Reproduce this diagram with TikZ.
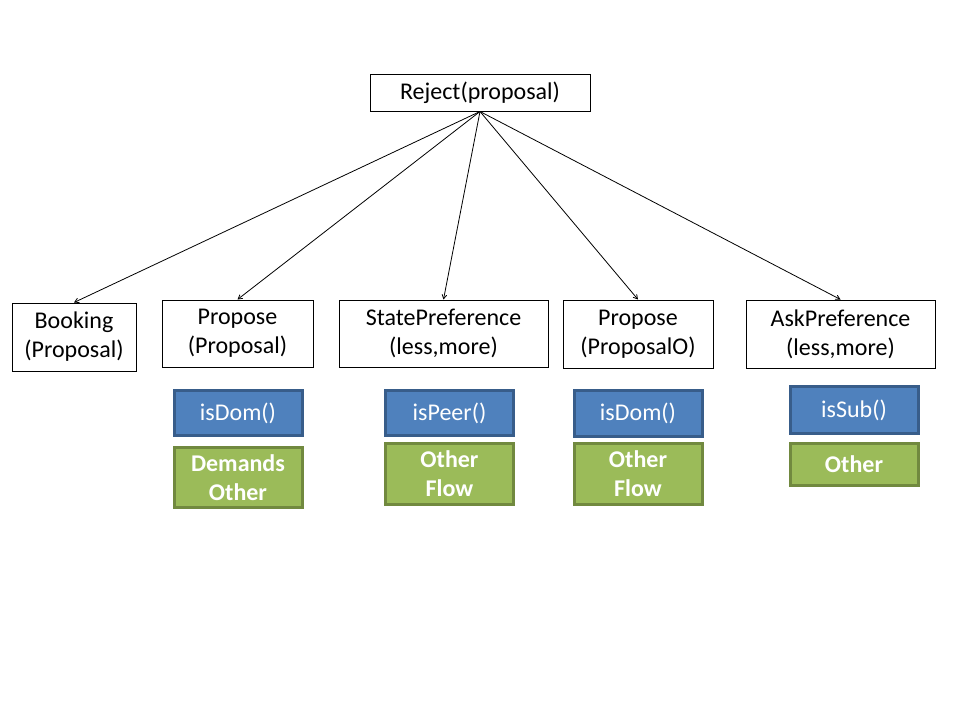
\documentclass[tikz,border=0pt]{standalone}
\usepackage{fontspec}
\setmainfont{Carlito}
\usetikzlibrary{arrows}
\definecolor{tagblue}{HTML}{4F81BD}
\definecolor{tagblueline}{HTML}{385D8A}
\definecolor{altgreen}{HTML}{9BBB59}
\definecolor{altgreenline}{HTML}{71893F}
\tikzset{
 act/.style={draw=black, fill=white, line width=1pt, align=center, inner sep=0,
  font=\fontsize{24}{29}\selectfont},
 check/.style={draw=tagblueline, fill=tagblue, line width=3pt, text=white, inner sep=0,
  minimum width=128, minimum height=45, font=\fontsize{24}{29}\selectfont},
 other/.style={draw=altgreenline, fill=altgreen, line width=3pt, text=white, inner sep=0,
  align=center, minimum width=128, font=\fontsize{24}{29}\selectfont\bfseries}
}
\begin{document}
\begin{tikzpicture}[x=1pt, y=-1pt, >=angle 60]
\useasboundingbox (0,0) rectangle (960,720);
% top
\node[act, minimum width=220, minimum height=37] (rej) at (480,92.5) {Reject(proposal)};
% second row
\node[act, minimum width=124, minimum height=68] (book) at (74,337) {Booking\\(Proposal)};
\node[act, minimum width=151, minimum height=67] (prop) at (237.5,333.5) {Propose\\(Proposal)};
\node[act, minimum width=209, minimum height=67] (state) at (443.5,333.5) {StatePreference\\(less,more)};
\node[act, minimum width=150, minimum height=68] (propo) at (638,334) {Propose\\(ProposalO)};
\node[act, minimum width=189, minimum height=68] (ask) at (840.5,334) {AskPreference\\(less,more)};
\foreach \n in {book,prop,state,propo,ask}
 \draw[->, line width=.8pt] (rej.south) -- (\n.north);
% checks
\node[check] (dom) at (238,413) {isDom()};
\node[check] (peer) at (449.5,413) {isPeer()};
\node[check, minimum height=46] (domo) at (638,413.5) {isDom()};
\node[check, minimum height=47] (sub) at (854,410) {isSub()};
% alternatives
\node[other, minimum height=60] (dem) at (238,477.5) {Demands\\Other};
\node[other, minimum height=61] (flow) at (449.5,474) {Other\\Flow};
\node[other, minimum height=61] (flowo) at (638,474) {Other\\Flow};
\node[other, minimum height=42] (oth) at (854,464.5) {Other};
\end{tikzpicture}
\end{document}
